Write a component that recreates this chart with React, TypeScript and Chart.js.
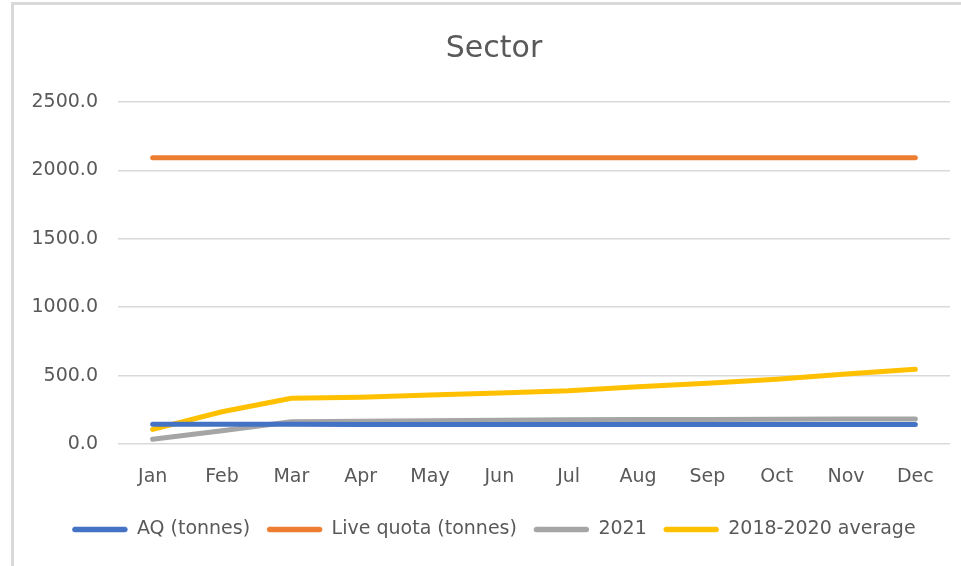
import React, { useEffect, useRef } from "react";
import { Chart, registerables } from "chart.js";

Chart.register(...registerables);

const months = ["Jan", "Feb", "Mar", "Apr", "May", "Jun", "Jul", "Aug", "Sep", "Oct", "Nov", "Dec"];
const aqTonnes = [144, 144, 144, 143, 143, 143, 143, 143, 143, 143, 143, 143];
const liveQuota = [2093, 2093, 2093, 2093, 2093, 2093, 2093, 2093, 2093, 2093, 2093, 2093];
const y2021 = [34, 97, 163, 167, 170, 174, 177, 179, 180, 181, 182, 182];
const avg2018to2020 = [107, 236, 334, 341, 358, 373, 390, 419, 444, 473, 512, 546];

const seriesNames = ["AQ (tonnes)", "Live quota (tonnes)", "2021", "2018-2020 average"];
const seriesColors = ["#4472C4", "#ED7D31", "#A5A5A5", "#FFC000"];
const titleText = "Sector";

const FONT = "'DejaVu Sans', sans-serif";
const TEXT = "#595959";
const GRID = "#D9D9D9";

export default function App() {
  const ref = useRef<HTMLCanvasElement | null>(null);

  useEffect(() => {
    document.body.style.margin = "0";
    const canvas = ref.current;
    if (!canvas) return;
    const values = [aqTonnes, liveQuota, y2021, avg2018to2020];
    const chart = new Chart(canvas, {
      type: "line",
      data: {
        labels: months,
        datasets: values.map((d, i) => ({
          label: seriesNames[i],
          data: d,
          borderColor: seriesColors[i],
          backgroundColor: seriesColors[i],
          borderWidth: 5,
          borderCapStyle: "round" as const,
          borderJoinStyle: "round" as const,
          pointRadius: 0,
          tension: 0,
          fill: false,
          yAxisID: "y",
        })),
      },
      options: {
        animation: false,
        responsive: false,
        maintainAspectRatio: false,
        layout: { padding: { left: 14, right: 13, top: 3, bottom: 17 } },
        plugins: {
          title: {
            display: true,
            text: titleText,
            color: TEXT,
            font: { family: FONT, size: 30, weight: "normal" },
            padding: { top: 28, bottom: 35 },
          },
          legend: {
            position: "bottom",
            labels: {
              boxWidth: 55,
              boxHeight: 5,
              padding: 17,
              color: TEXT,
              font: { family: FONT, size: 19 },
              useBorderRadius: true,
              borderRadius: 2.5,
              generateLabels: (c: any) =>
                Chart.defaults.plugins.legend.labels
                  .generateLabels(c)
                  .map((l: any) => ({ ...l, lineWidth: 0.5 })),
            },
          },
          tooltip: { enabled: false },
        },
        scales: {
          x: {
            offset: true,
            grid: { display: false, drawTicks: false },
            border: { display: false },
            ticks: { color: TEXT, font: { family: FONT, size: 19 }, padding: 22, maxRotation: 0 },
            afterFit: (s: any) => {
              s.height = 59;
            },
          },
          y: {
            min: 0,
            max: 2500,
            grid: { color: GRID, lineWidth: 1.5, drawTicks: false },
            border: { display: false },
            ticks: {
              stepSize: 500,
              color: TEXT,
              font: { family: FONT, size: 19 },
              padding: 20,
              callback: (v: any) => Number(v).toFixed(1),
            },
            afterFit: (s: any) => {
              s.width = 104;
            },
          },
          yRight: {
            type: "linear",
            position: "right",
            min: 0,
            max: 2500,
            grid: { display: false, drawTicks: false },
            border: { display: false },
            ticks: { display: false },
            afterFit: (s: any) => {
              s.width = 24;
            },
          },
        },
      },
    });
    return () => chart.destroy();
  }, []);

  return (
    <div style={{ position: "relative", width: 961, height: 566, background: "#fff", overflow: "hidden" }}>
      <canvas ref={ref} width={987} height={566} style={{ display: "block" }} />
      <div
        style={{
          position: "absolute",
          left: 11,
          top: 2,
          right: 0,
          bottom: 0,
          borderLeft: `3px solid ${GRID}`,
          borderTop: `3px solid ${GRID}`,
          pointerEvents: "none",
        }}
      />
    </div>
  );
}
